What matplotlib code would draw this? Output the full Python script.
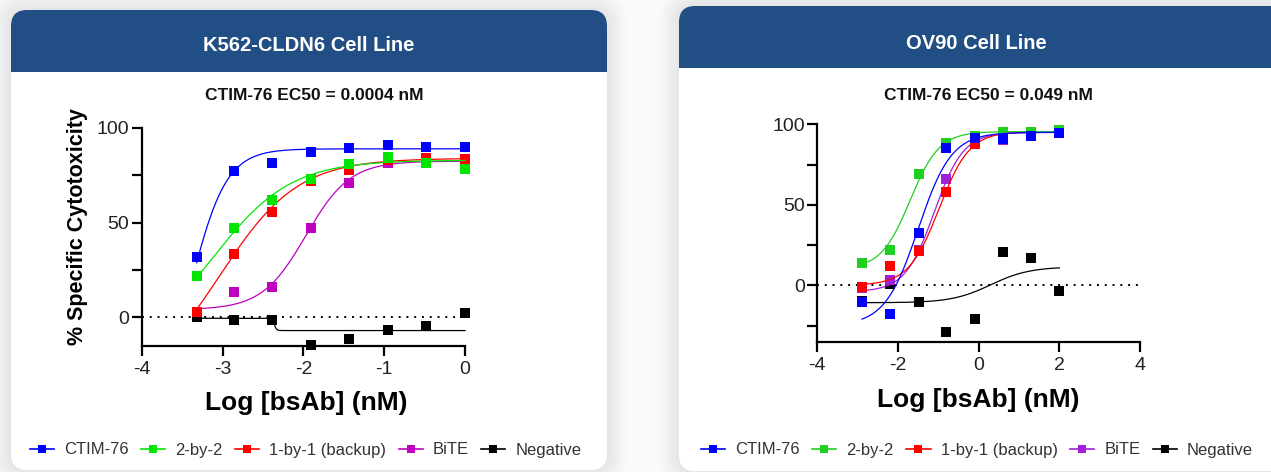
import numpy as np
import matplotlib
matplotlib.use('Agg')
import matplotlib.pyplot as plt
from matplotlib.patches import FancyBboxPatch, Rectangle
from matplotlib.transforms import IdentityTransform
from matplotlib.lines import Line2D

plt.rcParams['font.family'] = ['Liberation Sans', 'DejaVu Sans']

W, H = 1271, 472

series = ['CTIM-76', '2-by-2', '1-by-1 (backup)', 'BiTE', 'Negative']
k562_colors = ['#0000ff', '#00e600', '#ff0000', '#c000c0', '#000000']
ov90_colors = ['#0000ff', '#20d020', '#ff0000', '#a020d8', '#000000']

# K562-CLDN6, 3-fold dilutions (log nM)
k562_logc = [-3.32, -2.86, -2.39, -1.91, -1.43, -0.95, -0.48, 0.0]
k562_ctim76 = [32.1, 77.4, 81.5, 87.1, 89.4, 91.2, 90.1, 89.8]
k562_2by2 = [22.0, 47.4, 61.9, 73.2, 81.1, 84.7, 81.7, 78.5]
k562_1by1 = [2.8, 33.5, 55.7, 72.0, 78.0, 83.0, 84.0, 83.6]
k562_bite = [3.0, 13.2, 15.9, 47.4, 71.1, 81.5, 82.0, 82.0]
k562_neg = [0.0, -1.2, -1.6, -14.6, -11.6, -6.7, -4.6, 2.1]

# OV90, 5-fold dilutions (log nM)
ov90_logc = [-2.89, -2.19, -1.49, -0.80, -0.10, 0.60, 1.30, 2.00]
ov90_ctim76 = [-10.1, -18.0, 32.7, 85.1, 91.7, 90.9, 93.0, 94.4]
ov90_2by2 = [14.1, 21.7, 69.4, 88.6, 93.0, 95.0, 95.5, 96.5]
ov90_1by1 = [-0.8, 11.8, 21.3, 58.2, 87.8, 93.0, 95.4, 95.4]
ov90_bite = [-1.9, 3.3, 22.0, 66.3, 88.0, 90.3, 94.0, 95.0]
ov90_neg = [-10.0, 1.0, -10.1, -29.2, -20.9, 20.7, 17.2, -3.3]

# 4PL fits: bottom, top, logEC50, hill
k562_fit = [[-60, 89, -3.407, 1.94],
            [-20, 83, -3.12, 0.9],
            [-40, 84, -3.035, 0.9],
            [4, 82.5, -1.968, 1.6],
            [-0.5, -7.0, -2.36, 30]]
ov90_fit = [[-25, 95, -1.5, 1.05],
            [10, 95.5, -1.7, 1.2],
            [0, 95.5, -0.98, 1.15],
            [-4, 95, -1.1, 1.2],
            [-10.8, 11.5, 0.3, 0.9]]


def four_pl(x, bottom, top, logec50, hill):
    return bottom + (top - bottom) / (1 + 10 ** ((logec50 - x) * hill))


def card(fig, x0, x1, top, bottom, head):
    # pixel coords measured from the top of the image
    y0 = H - bottom
    h = bottom - top
    for i in range(1, 11):
        p = 2 * i
        fig.add_artist(FancyBboxPatch((x0, y0), x1 - x0, h,
                       boxstyle=f'round,pad={p},rounding_size={16 + p}',
                       fc='black', ec='none', alpha=0.009,
                       transform=IdentityTransform(), zorder=-10))
    fig.add_artist(FancyBboxPatch((x0, y0), x1 - x0, h,
                   boxstyle='round,pad=0,rounding_size=16',
                   fc='white', ec='none', transform=IdentityTransform(), zorder=-5))
    fig.add_artist(FancyBboxPatch((x0, H - head), x1 - x0, head - top,
                   boxstyle='round,pad=0,rounding_size=16',
                   fc='#224e86', ec='none', transform=IdentityTransform(), zorder=-4))
    fig.add_artist(Rectangle((x0, H - head), x1 - x0, 25,
                   fc='#224e86', ec='none', transform=IdentityTransform(), zorder=-4))


def panel(ax, logc, values, fits, colors, xlim, ylim, xticks, minor):
    for i in reversed(range(len(series))):
        xs = np.linspace(min(logc), max(logc), 400)
        ax.plot(xs, four_pl(xs, *fits[i]), color=colors[i], lw=0.9,
                zorder=3 + 2 * (4 - i), clip_on=False)
        ax.plot(logc, values[i], 's', color=colors[i], ms=6.5, mew=0,
                zorder=4 + 2 * (4 - i), clip_on=False)
    ax.axhline(0, color='black', ls=(0, (1, 3)), lw=1.4, zorder=2)
    ax.set_xlim(*xlim)
    ax.set_ylim(*ylim)
    ax.set_xticks(xticks)
    ax.set_xticklabels([str(t) for t in xticks])
    ax.set_yticks([0, 50, 100])
    ax.set_yticks(minor, minor=True)
    ax.patch.set_alpha(0)
    for s in ['top', 'right']:
        ax.spines[s].set_visible(False)
    for s in ['left', 'bottom']:
        ax.spines[s].set_linewidth(1.6)
    ax.tick_params(which='both', direction='out', length=7, width=1.6,
                   labelsize=14, labelcolor='#222222')
    ax.tick_params(axis='y', pad=2)
    ax.tick_params(axis='x', pad=4)


fig = plt.figure(figsize=(W / 100, H / 100), dpi=100, facecolor='#fafafa')

card(fig, 11, 607, 10, 470, 72)
card(fig, 679, 1290, 6, 471, 68)

fig.text(309 / W, 1 - 51 / H, 'K562-CLDN6 Cell Line', color='white',
         fontsize=14.5, fontweight='bold', ha='center', va='baseline')
fig.text(976 / W, 1 - 49 / H, 'OV90 Cell Line', color='white',
         fontsize=14.5, fontweight='bold', ha='center', va='baseline')
fig.text(314 / W, 1 - 99.5 / H, 'CTIM-76 EC50 = 0.0004 nM', color='#111111',
         fontsize=12.5, fontweight='bold', ha='center', va='baseline')
fig.text(988 / W, 1 - 99.5 / H, 'CTIM-76 EC50 = 0.049 nM', color='#111111',
         fontsize=12.5, fontweight='bold', ha='center', va='baseline')

ax1 = fig.add_axes([141.7 / W, 1 - 345.7 / H, 323.3 / W, 217.7 / H])
panel(ax1, k562_logc,
      [k562_ctim76, k562_2by2, k562_1by1, k562_bite, k562_neg],
      k562_fit, k562_colors, (-4, 0), (-15, 100), [-4, -3, -2, -1, 0], [25, 75])
ax1.set_ylabel('% Specific Cytotoxicity', fontsize=15.5, fontweight='bold')
ax1.yaxis.set_label_coords(-0.166, 0.545)
ax1.set_xlabel('Log [bsAb] (nM)', fontsize=19, fontweight='bold', va='top')
ax1.xaxis.set_label_coords(0.51, -0.208)

ax2 = fig.add_axes([817.3 / W, 1 - 341.7 / H, 322.7 / W, 217.4 / H])
panel(ax2, ov90_logc,
      [ov90_ctim76, ov90_2by2, ov90_1by1, ov90_bite, ov90_neg],
      ov90_fit, ov90_colors, (-4, 4), (-35, 100), [-4, -2, 0, 2, 4], [-25, 25, 75])
ax2.set_xlabel('Log [bsAb] (nM)', fontsize=19, fontweight='bold', va='top')
ax2.xaxis.set_label_coords(0.498, -0.213)

for cx, colors in [(305.5, k562_colors), (977, ov90_colors)]:
    handles = [Line2D([], [], color=c, lw=1.2, marker='s', ms=6, mew=0)
               for c in colors]
    fig.legend(handles, series, loc='center', bbox_to_anchor=(cx / W, 1 - 450 / H),
               ncol=5, frameon=False, fontsize=12, labelcolor='#333333',
               handlelength=1.45, handletextpad=0.6, columnspacing=0.75)

fig.savefig('out.png', dpi=100, facecolor=fig.get_facecolor())
